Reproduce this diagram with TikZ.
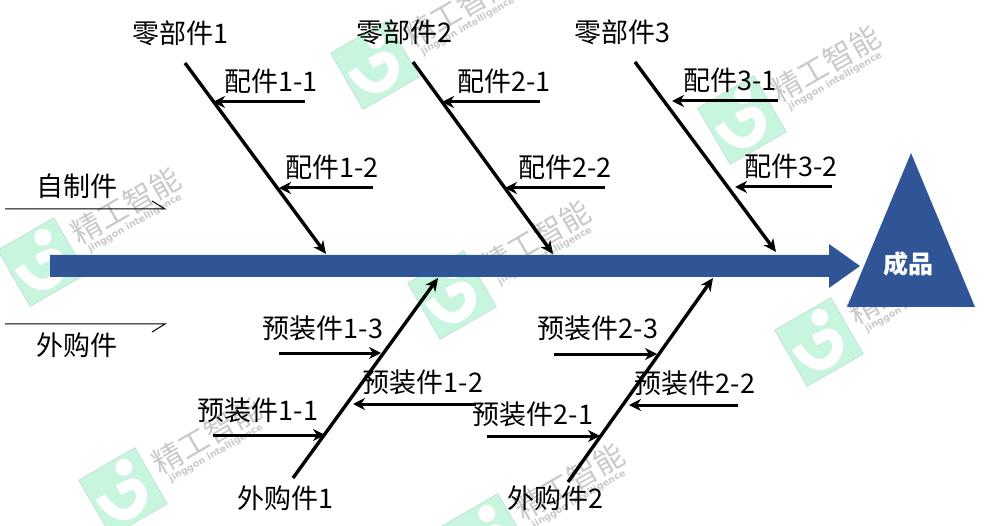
\documentclass[tikz,border=0pt]{standalone}
\usepackage{fontspec}
\setmainfont{Noto Sans CJK SC}
\newfontfamily\wmlatin{DejaVu Sans}
\usetikzlibrary{arrows.meta}
\definecolor{fishblue}{HTML}{2F5597}
\definecolor{wmgreen}{HTML}{C8F5DE}
\definecolor{wmgray}{HTML}{C9C9C9}
\tikzset{
  x=1pt,y=1pt,
  lbl/.style={font=\fontsize{27}{29}\selectfont,inner sep=0pt,text=black},
  rib/.style={line width=3.4pt,-{Stealth[length=13pt,width=12pt]}},
  sub/.style={line width=3pt,-{Stealth[length=12pt,width=12pt]}},
  thin/.style={line width=1pt},
  wm/.pic={
    \begin{scope}[rotate=30]
      \fill[wmgreen,draw=wmgreen!80!gray,line width=.5pt] (-32.5,-32.5) rectangle (32.5,32.5);
      \fill[white] (13,21) circle (8.5);
      \draw[white,line width=11pt] (-22,7) .. controls (-22,-10) and (-14,-22) .. (-3,-22) .. controls (8,-22) and (16,-14) .. (16,-6) .. controls (16,0) and (13,3) .. (9,3) -- (-3,4);
      \node[transform shape,inner sep=0pt,text=wmgray,font=\fontsize{30}{32}\selectfont] (-title) at (101,7) {精工智能};
      \node[transform shape,inner sep=0pt,text=wmgray,font=\wmlatin\fontsize{9.5}{10}\selectfont\bfseries] (-sub) at (100,-13) {jinggon intelligence};
    \end{scope}
  }
}
\begin{document}
\begin{tikzpicture}
\useasboundingbox (0,0) rectangle (990,-526);
% watermarks
\pic (w1) at (42,-262) {wm};
\pic (w2) at (375,-65) {wm};
\pic (w3) at (742,-120) {wm};
\pic (w4) at (452,-295) {wm};
\pic (w5) at (123,-492) {wm};
\pic (w6) at (819,-342) {wm};
\pic (w7) at (486,-538) {wm};
% main arrow
\fill[fishblue] (50,-255) -- (829,-255) -- (829,-244) -- (860,-266) -- (829,-288) -- (829,-277) -- (50,-277) -- cycle;
% triangle
\fill[fishblue] (911,-153) -- (975,-307) -- (847,-307) -- cycle;
\node[inner sep=0pt,text=white,font=\fontsize{25}{27}\selectfont\bfseries] (product) at (908,-264) {成品};
% left category lines
\coordinate (a1) at (5,-209); \coordinate (a2) at (165,-209); \coordinate (a3) at (152,-201);
\coordinate (b1) at (5,-324); \coordinate (b2) at (165,-324); \coordinate (b3) at (152,-332);
\draw[thin] (a1) -- (a2) -- (a3);
\draw[thin] (b1) -- (b2) -- (b3);
\node[lbl] (self) at (77,-186) {自制件};
\node[lbl] (buy) at (77,-345) {外购件};
% upper ribs
\coordinate (r1s) at (185,-63); \coordinate (r1e) at (326,-254);
\coordinate (r2s) at (413,-62); \coordinate (r2e) at (553,-254);
\coordinate (r3s) at (635,-62); \coordinate (r3e) at (776,-252);
\draw[rib] (r1s) -- (r1e);
\draw[rib] (r2s) -- (r2e);
\draw[rib] (r3s) -- (r3e);
\node[lbl] (p1) at (180,-33) {零部件1};
\node[lbl] (p2) at (404,-32) {零部件2};
\node[lbl] (p3) at (622,-32) {零部件3};
% upper sub-arrows
\foreach \n/\sx/\sy/\ex/\ey in {c11/305/102/213/102,c12/373/188/279/188,c21/540/102/442/102,c22/605/188/505/188,c31/778/101/672/101,c32/832/187/735/187}{
  \coordinate (\n s) at (\sx,-\sy);
  \coordinate (\n e) at (\ex,-\ey);
  \draw[sub] (\n s) -- (\n e);
}
\node[lbl] (l11) at (271,-81) {配件1-1};
\node[lbl] (l12) at (332,-167) {配件1-2};
\node[lbl] (l21) at (504,-81) {配件2-1};
\node[lbl] (l22) at (565,-167) {配件2-2};
\node[lbl] (l31) at (730,-80) {配件3-1};
\node[lbl] (l32) at (791,-166) {配件3-2};
% lower ribs
\coordinate (q1s) at (293,-478); \coordinate (q1e) at (438,-278);
\coordinate (q2s) at (568,-482); \coordinate (q2e) at (713,-278);
\draw[rib] (q1s) -- (q1e);
\draw[rib] (q2s) -- (q2e);
\node[lbl] (o1) at (285,-498) {外购件1};
\node[lbl] (o2) at (555,-498) {外购件2};
% lower sub-arrows
\foreach \n/\sx/\sy/\ex/\ey in {d13/279/353/381/353,d12/476/404/353/404,d11/213/435/325/435,d23/554/354/657/354,d22/738/405/629/405,d21/487/436/600/436}{
  \coordinate (\n s) at (\sx,-\sy);
  \coordinate (\n e) at (\ex,-\ey);
  \draw[sub] (\n s) -- (\n e);
}
\node[lbl] (m13) at (323,-328) {预装件1-3};
\node[lbl] (m12) at (423,-382) {预装件1-2};
\node[lbl] (m11) at (258,-410) {预装件1-1};
\node[lbl] (m23) at (598,-328) {预装件2-3};
\node[lbl] (m22) at (695,-383) {预装件2-2};
\node[lbl] (m21) at (533,-414) {预装件2-1};
\end{tikzpicture}
\end{document}
